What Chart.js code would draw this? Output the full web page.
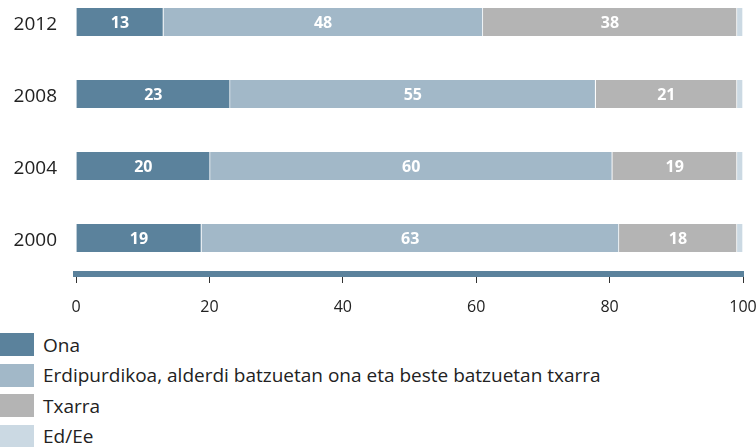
<!DOCTYPE html>
<html>
<head>
<meta charset="utf-8">
<script src="https://cdn.jsdelivr.net/npm/chart.js@4/dist/chart.umd.min.js"></script>
<style>
  html, body { margin: 0; padding: 0; background: #fff; }
  body { width: 756px; height: 447px; position: relative; overflow: hidden; font-family: 'Open Sans', sans-serif; }
  #wrap { position: absolute; left: 0; top: -14px; width: 756px; height: 334px; }
  #legend { position: absolute; left: 0; top: 333px; }
  .item { display: flex; align-items: center; height: 23px; margin-bottom: 7.5px; font-size: 19px; color: #222; }
  .box { width: 34px; height: 23px; margin-right: 9px; }
</style>
</head>
<body>
<div id="wrap"><canvas id="myChart"></canvas></div>
<div id="legend"></div>
<script>
// years, top to bottom
const years = ['2012', '2008', '2004', '2000'];
const seriesNames = ['Ona', 'Erdipurdikoa, alderdi batzuetan ona eta beste batzuetan txarra', 'Txarra', 'Ed/Ee'];
const ona = [13.1, 23.1, 20.1, 18.8];
const erdipurdikoa = [47.9, 54.8, 60.3, 62.6];
const txarra = [38.1, 21.2, 18.7, 17.7];
const edEe = [0.9, 0.9, 0.9, 0.9];
const xTicks = [0, 20, 40, 60, 80, 100];
const colors = ['#5b829c', '#a2b8c8', '#b4b4b4', '#cbd9e3'];

const FONT = "'Open Sans', sans-serif";

const valueLabels = {
    id: 'valueLabels',
    afterDatasetsDraw(chart) {
        const ctx = chart.ctx;
        ctx.save();
        ctx.font = 'bold 16px ' + FONT;
        ctx.fillStyle = '#fff';
        ctx.textAlign = 'center';
        ctx.textBaseline = 'middle';
        chart.data.datasets.forEach((ds, i) => {
            if (i === 3) return;
            chart.getDatasetMeta(i).data.forEach((bar, j) => {
                const cx = (bar.x + bar.base) / 2;
                ctx.fillText(String(Math.round(ds.data[j])), cx, bar.y + 1);
            });
        });
        ctx.restore();
    }
};

const allData = [ona, erdipurdikoa, txarra, edEe];

const chart = new Chart(document.getElementById('myChart').getContext('2d'), {
    type: 'bar',
    data: {
        labels: years,
        datasets: allData.map((d, i) => ({
            label: seriesNames[i],
            data: d,
            backgroundColor: colors[i],
            borderColor: '#fff',
            borderWidth: {top: 0, bottom: 0, left: 0, right: 1},
            borderSkipped: false,
            barThickness: 28
        }))
    },
    options: {
        indexAxis: 'y',
        responsive: true,
        maintainAspectRatio: false,
        animation: false,
        layout: {padding: {left: 0, right: 13, top: 0, bottom: 0}},
        plugins: {legend: {display: false}, tooltip: {enabled: false}},
        scales: {
            x: {
                stacked: true,
                min: 0,
                max: 100,
                afterBuildTicks: s => { s.ticks = xTicks.map(v => ({value: v})); },
                afterFit: s => { s.height = 46; s.paddingLeft = 0; s.paddingRight = 0; },
                grid: {drawOnChartArea: false, drawTicks: true, tickLength: 9, color: '#333', tickWidth: 1},
                border: {display: true, color: '#5b829c', width: 6},
                ticks: {color: '#222', font: {family: FONT, size: 16}, padding: 15, maxRotation: 0}
            },
            y: {
                stacked: true,
                afterFit: s => { s.width = 76; s.paddingTop = 0; s.paddingBottom = 0; },
                grid: {display: false, drawTicks: false},
                border: {display: false},
                ticks: {color: '#222', font: {family: FONT, size: 19}, padding: 19, labelOffset: 3}
            }
        }
    },
    plugins: [valueLabels]
});

// legend, one item per row
const legend = document.getElementById('legend');
chart.data.datasets.forEach(ds => {
    const row = document.createElement('div');
    row.className = 'item';
    const box = document.createElement('span');
    box.className = 'box';
    box.style.background = ds.backgroundColor;
    const txt = document.createElement('span');
    txt.textContent = ds.label;
    row.appendChild(box);
    row.appendChild(txt);
    legend.appendChild(row);
});
</script>
</body>
</html>
